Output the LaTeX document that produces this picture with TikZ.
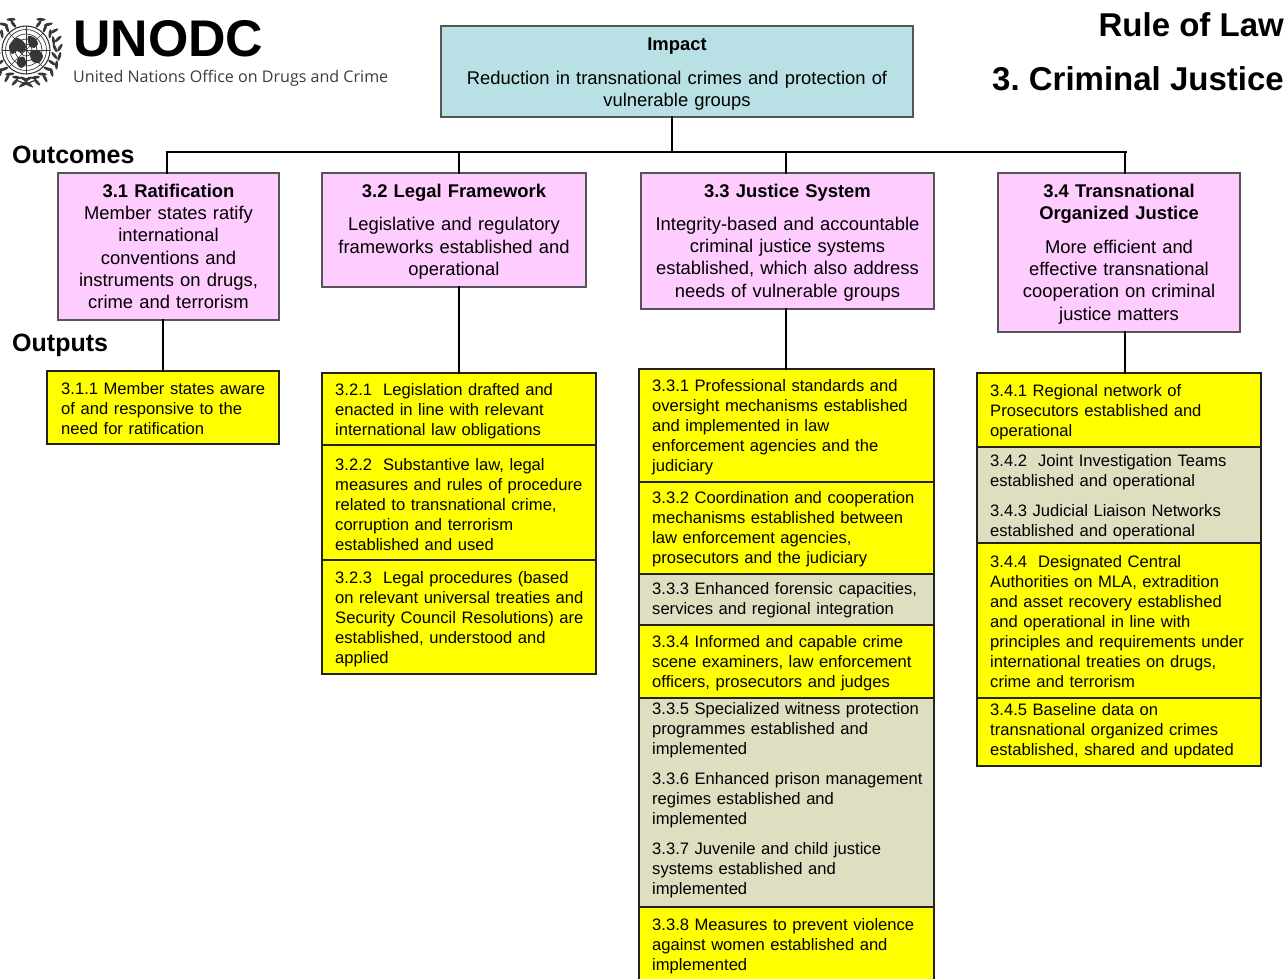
\documentclass[tikz,border=0pt]{standalone}
\usepackage{fontspec}
\setmainfont{Liberation Sans}
\newfontfamily\subfont{Open Sans}
\usepackage{graphicx}
\frenchspacing

\definecolor{impactblue}{RGB}{185,224,228}
\definecolor{ocpink}{RGB}{255,204,255}
\definecolor{opyellow}{RGB}{255,255,0}
\definecolor{opgray}{RGB}{221,223,192}
\definecolor{pinkline}{RGB}{85,85,85}
\definecolor{yline}{RGB}{35,35,25}
\definecolor{embcol}{RGB}{55,55,55}
\definecolor{subgray}{RGB}{60,60,60}

\begin{document}
\begin{tikzpicture}[x=1pt,y=-1pt,
  conn/.style={line width=2pt,draw=black,line cap=rect},
  ocbox/.style={draw=pinkline,line width=1.3pt,fill=ocpink,anchor=north west,inner sep=0pt,outer sep=0pt},
  impbox/.style={draw=pinkline,line width=1.3pt,fill=impactblue,anchor=north west,inner sep=0pt,outer sep=0pt},
  opbox/.style={draw=yline,line width=1.2pt,fill=opyellow,anchor=north west,inner sep=0pt,outer sep=0pt},
  graybox/.style={opbox,fill=opgray},
  octext/.style={inner sep=0pt,align=center,font=\fontsize{18.4}{22.3}\selectfont},
  optext/.style={inner sep=0pt,align=left,anchor=west,font=\fontsize{16.6}{20}\selectfont},
  lbl/.style={inner sep=0pt,font=\bfseries\fontsize{25}{30}\selectfont,anchor=base west},
  ttl/.style={inner sep=0pt,font=\bfseries\fontsize{33}{40}\selectfont,anchor=base east},
  leaf/.style={fill=embcol},
]
\useasboundingbox (0,0) rectangle (1286,978);
\clip (0,0) rectangle (1286,978);

% ---------- logo ----------
\begin{scope}[shift={(26,50)}]
  \foreach \r in {6,11,16,20.5} { \draw[embcol,line width=0.7pt] (0,0) circle (\r); }
  \draw[embcol,line width=1.1pt] (0,0) circle (24);
  \foreach \a in {0,45,...,315} { \draw[embcol,line width=0.7pt] (0,0) -- (\a:24); }
  \fill[embcol] plot[smooth cycle] coordinates {(-17,-4) (-10,-12) (-3,-9) (0,-3) (-4,3) (-9,1) (-14,4)};
  \fill[embcol] plot[smooth cycle] coordinates {(2,-14) (9,-12) (12,-6) (8,-2) (3,-5)};
  \fill[embcol] plot[smooth cycle] coordinates {(4,2) (12,0) (17,6) (13,13) (6,11)};
  \fill[embcol] plot[smooth cycle] coordinates {(-8,8) (-2,7) (0,14) (-5,18) (-9,14)};
  \foreach \a in {-64,-49,...,86} {
    \begin{scope}[shift={(\a:29)},rotate=\a+118] \fill[leaf] (0,0) ellipse (4.6 and 1.5); \end{scope}
    \begin{scope}[shift={(\a:34)},rotate=\a+62] \fill[leaf] (0,0) ellipse (4.6 and 1.5); \end{scope}
    \begin{scope}[shift={(180-\a:29)},rotate=180-\a-118] \fill[leaf] (0,0) ellipse (4.6 and 1.5); \end{scope}
    \begin{scope}[shift={(180-\a:34)},rotate=180-\a-62] \fill[leaf] (0,0) ellipse (4.6 and 1.5); \end{scope}
  }
  \draw[embcol,line width=1.2pt] (-10,30) -- (7,37);
  \draw[embcol,line width=1.2pt] (10,30) -- (-7,37);
\end{scope}
\node[anchor=base west,inner sep=0pt] (unodc) at (73,56.7) {\resizebox{190pt}{36pt}{\bfseries UNODC}};
\node[anchor=base west,inner sep=0pt,text=subgray] (unsub) at (73,82.7) {\resizebox{315pt}{!}{\subfont United Nations Office on Drugs and Crime}};

% ---------- titles ----------
\node[ttl] (t1) at (1284,36) {Rule of Law};
\node[ttl] (t2) at (1284,90) {3. Criminal Justice};
\node[lbl] (lout) at (12,163) {Outcomes};
\node[lbl] (lop) at (12,351.5) {Outputs};

% ---------- impact ----------
\node[impbox,minimum width=472pt,minimum height=91pt] (impact) at (441,26) {};
\node[octext,text width=460pt,font=\fontsize{18.4}{22}\selectfont] (impactt) at ([yshift=-3pt]impact.center)
  {\textbf{Impact}\\[12pt]Reduction in transnational crimes and protection of\\vulnerable groups};

% ---------- outcomes ----------
\node[ocbox,minimum width=221pt,minimum height=147pt] (oc1) at (58,173) {};
\node[octext,text width=211pt] (oc1t) at (oc1.center)
  {\textbf{3.1 Ratification}\\Member states ratify\\international\\conventions and\\instruments on drugs,\\crime and terrorism};
\node[ocbox,minimum width=264pt,minimum height=114pt] (oc2) at (322,173) {};
\node[octext,text width=254pt] (oc2t) at ([yshift=-1.5pt]oc2.center)
  {\textbf{3.2 Legal Framework}\\[11.5pt]Legislative and regulatory\\frameworks established and\\operational};
\node[ocbox,minimum width=293pt,minimum height=136pt] (oc3) at (641,173) {};
\node[octext,text width=283pt] (oc3t) at ([yshift=-1.5pt]oc3.center)
  {\textbf{3.3 Justice System}\\[10.7pt]Integrity-based and accountable\\criminal justice systems\\established, which also address\\needs of vulnerable groups};
\node[ocbox,minimum width=242pt,minimum height=159pt] (oc4) at (998,173) {};
\node[octext,text width=232pt] (oc4t) at ([yshift=-1.5pt]oc4.center)
  {\textbf{3.4 Transnational}\\\textbf{Organized Justice}\\[11.5pt]More efficient and\\effective transnational\\cooperation on criminal\\justice matters};

% ---------- outputs 3.1 ----------
\node[opbox,minimum width=232pt,minimum height=73pt] (op311) at (47,371) {};
\node[optext,text width=214pt] (op311t) at ([xshift=14pt,yshift=-1.5pt]op311.west)
  {3.1.1 Member states aware\\of and responsive to the\\need for ratification};

% ---------- outputs 3.2 ----------
\node[opbox,minimum width=274pt,minimum height=72pt] (op321) at (322,373) {};
\node[optext,text width=256pt] (op321t) at ([xshift=13pt,yshift=-2pt]op321.west)
  {3.2.1\ \ Legislation drafted and\\enacted in line with relevant\\international law obligations};
\node[opbox,minimum width=274pt,minimum height=115pt] (op322) at (322,445) {};
\node[optext,text width=256pt] (op322t) at ([xshift=13pt,yshift=-2pt]op322.west)
  {3.2.2\ \ Substantive law, legal\\measures and rules of procedure\\related to transnational crime,\\corruption and terrorism\\established and used};
\node[opbox,minimum width=274pt,minimum height=114pt] (op323) at (322,560) {};
\node[optext,text width=256pt] (op323t) at ([xshift=13pt,yshift=-2pt]op323.west)
  {3.2.3\ \ Legal procedures (based\\on relevant universal treaties and\\Security Council Resolutions) are\\established, understood and\\applied};

% ---------- outputs 3.3 ----------
\node[opbox,minimum width=295pt,minimum height=113pt] (op331) at (639,369) {};
\node[optext,text width=277pt] (op331t) at ([xshift=13pt,yshift=-2pt]op331.west)
  {3.3.1 Professional standards and\\oversight mechanisms established\\and implemented in law\\enforcement agencies and the\\judiciary};
\node[opbox,minimum width=295pt,minimum height=92pt] (op332) at (639,482) {};
\node[optext,text width=277pt] (op332t) at ([xshift=13pt,yshift=-1pt]op332.west)
  {3.3.2 Coordination and cooperation\\mechanisms established between\\law enforcement agencies,\\prosecutors and the judiciary};
\node[graybox,minimum width=295pt,minimum height=51pt] (op333) at (639,574) {};
\node[optext,text width=277pt] (op333t) at ([xshift=13pt,yshift=-0.5pt]op333.west)
  {3.3.3 Enhanced forensic capacities,\\services and regional integration};
\node[opbox,minimum width=295pt,minimum height=73pt] (op334) at (639,625) {};
\node[optext,text width=277pt] (op334t) at ([xshift=13pt,yshift=-1.5pt]op334.west)
  {3.3.4 Informed and capable crime\\scene examiners, law enforcement\\officers, prosecutors and judges};
\node[graybox,minimum width=295pt,minimum height=209pt] (op335) at (639,698) {};
\node[optext,text width=277pt] (op335t) at ([xshift=13pt,yshift=2.5pt]op335.west)
  {3.3.5 Specialized witness protection\\programmes established and\\implemented\\[10pt]3.3.6 Enhanced prison management\\regimes established and\\implemented\\[10pt]3.3.7 Juvenile and child justice\\systems established and\\implemented};
\node[opbox,minimum width=295pt,minimum height=90pt] (op338) at (639,907) {};
\node[optext,text width=277pt,anchor=north west] (op338t) at ([xshift=13pt,yshift=-11pt]op338.north west)
  {3.3.8 Measures to prevent violence\\against women established and\\implemented};

% ---------- outputs 3.4 ----------
\node[opbox,minimum width=284pt,minimum height=74pt] (op341) at (977,373) {};
\node[optext,text width=266pt] (op341t) at ([xshift=13pt,yshift=-2pt]op341.west)
  {3.4.1 Regional network of\\Prosecutors established and\\operational};
\node[graybox,minimum width=284pt,minimum height=96pt] (op342) at (977,447) {};
\node[optext,text width=266pt] (op342t) at ([xshift=13pt,yshift=-2pt]op342.west)
  {3.4.2\ \ Joint Investigation Teams\\established and operational\\[10pt]3.4.3 Judicial Liaison Networks\\established and operational};
\node[opbox,minimum width=284pt,minimum height=155pt] (op344) at (977,543) {};
\node[optext,text width=266pt] (op344t) at ([xshift=13pt,yshift=-1.5pt]op344.west)
  {3.4.4\ \ Designated Central\\Authorities on MLA, extradition\\and asset recovery established\\and operational in line with\\principles and requirements under\\international treaties on drugs,\\crime and terrorism};
\node[opbox,minimum width=284pt,minimum height=68pt] (op345) at (977,698) {};
\node[optext,text width=266pt] (op345t) at ([xshift=13pt,yshift=1pt]op345.west)
  {3.4.5 Baseline data on\\transnational organized crimes\\established, shared and updated};

% ---------- connectors ----------
\coordinate (busL) at (167,152);
\coordinate (busR) at (1126,152);
\coordinate (c0) at (672,152);
\coordinate (c2) at (459,152);
\coordinate (c3) at (786,152);
\coordinate (c4) at (1125,152);
\draw[conn] (busL) -- (busR);
\draw[conn] (impact.south -| c0) -- (c0);
\draw[conn] (busL) -- (busL |- oc1.north);
\draw[conn] (c2) -- (c2 |- oc2.north);
\draw[conn] (c3) -- (c3 |- oc3.north);
\draw[conn] (c4) -- (c4 |- oc4.north);
\draw[conn] (op311.north |- oc1.south) -- (op311.north);
\draw[conn] (c2 |- oc2.south) -- (c2 |- op321.north);
\draw[conn] (c3 |- oc3.south) -- (c3 |- op331.north);
\draw[conn] (c4 |- oc4.south) -- (c4 |- op341.north);
\end{tikzpicture}
\end{document}
